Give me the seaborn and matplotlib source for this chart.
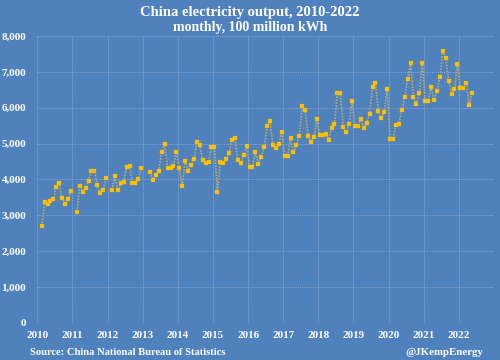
import numpy as np
import pandas as pd
import matplotlib
matplotlib.use("Agg")
import matplotlib.pyplot as plt
import seaborn as sns

nan = np.nan
years = list(range(2010, 2023))
v2010 = [nan, 2700, 3360, 3320, 3400, 3460, 3780, 3900, 3490, 3320, 3450, 3670]
v2011 = [nan, 3100, 3830, 3660, 3770, 3960, 4240, 4250, 3850, 3630, 3710, 4030]
v2012 = [nan, 3700, 4100, 3710, 3890, 3930, 4350, 4370, 3900, 3890, 4000, 4320]
v2013 = [nan, nan, 4200, 3990, 4120, 4240, 4780, 4990, 4310, 4310, 4390, 4770]
v2014 = [4320, 3830, 4510, 4240, 4410, 4570, 5050, 4950, 4530, 4450, 4490, 4900]
v2015 = [4900, 3650, 4500, 4450, 4560, 4750, 5090, 5150, 4550, 4450, 4670, 4920]
v2016 = [4350, 4350, 4770, 4440, 4630, 4900, 5500, 5620, 4950, 4870, 4980, 5330]
v2017 = [4650, 4650, 5160, 4760, 4950, 5200, 6050, 5930, 5200, 5040, 5190, 5690]
v2018 = [5230, 5230, 5270, 5100, 5440, 5540, 6400, 6400, 5470, 5320, 5540, 6190]
v2019 = [5490, 5490, 5690, 5440, 5570, 5830, 6570, 6680, 5910, 5710, 5880, 6530]
v2020 = [5130, 5130, 5520, 5540, 5930, 6300, 6800, 7240, 6300, 6100, 6410, 7260]
v2021 = [6200, 6200, 6570, 6220, 6470, 6850, 7580, 7380, 6750, 6390, 6530, 7220]
v2022 = [6560, 6560, 6700, 6080, 6420]
yearly = [v2010, v2011, v2012, v2013, v2014, v2015, v2016, v2017, v2018,
          v2019, v2020, v2021, v2022]
ytick_vals = [0, 1000, 2000, 3000, 4000, 5000, 6000, 7000, 8000]
xtick_years = years

title = "China electricity output, 2010-2022"
subtitle = "monthly, 100 million kWh"
source = "Source: China National Bureau of Statistics"
handle = "@JKempEnergy"

# build table
rows = []
for y, vals in zip(years, yearly):
    for m, v in enumerate(vals):
        rows.append((y + (m + 0.5) / 12.0, v))
df = pd.DataFrame(rows, columns=["t", "v"])
df["seg"] = df["v"].isna().cumsum()
dfv = df.dropna()

BG = "#4F81BD"
sns.set_theme(style="white")
plt.rcParams["font.family"] = ["Liberation Serif", "DejaVu Serif"]
plt.rcParams["font.weight"] = "bold"

fig = plt.figure(figsize=(5, 3.6), dpi=100, facecolor=BG)
ax = fig.add_axes([0.0746, 0.1028, 0.9134, 0.7972])
ax.set_facecolor(BG)

sns.lineplot(data=dfv, x="t", y="v", units="seg", estimator=None,
             color="#B3AA78", lw=1.2, linestyle=(0, (1, 0.8)), ax=ax)
sns.scatterplot(data=dfv, x="t", y="v", color="#FFC000", s=9,
                marker="s", edgecolor="#F0B400", linewidth=0.2, ax=ax, zorder=3)

ax.set_xlim(2010, 2023)
ax.set_ylim(0, 8000)
ax.set_xticks(list(xtick_years) + [2023])
ax.set_xticklabels([str(y) for y in xtick_years] + [""])
ax.set_yticks(ytick_vals)
ax.set_yticklabels([f"{v:,}" for v in ytick_vals])
ax.grid(True, color="#86A6D2", lw=0.7, linestyle=(0, (1, 1)))
ax.set_axisbelow(True)
for s in ax.spines.values():
    s.set_visible(False)
ax.tick_params(axis="both", colors="white", length=0, labelsize=8)
ax.tick_params(axis="x", pad=6)
ax.tick_params(axis="y", pad=8)
for lbl in ax.get_xticklabels() + ax.get_yticklabels():
    lbl.set_fontweight("bold")
ax.set_xlabel("")
ax.set_ylabel("")

fig.text(0.5, 0.966, title, ha="center", va="center", color="white",
         fontsize=10.5, fontweight="bold")
fig.text(0.5, 0.924, subtitle, ha="center", va="center", color="white",
         fontsize=10, fontweight="bold")
fig.text(0.06, 0.022, source, ha="left", va="center", color="white",
         fontsize=7.6, fontweight="bold")
fig.text(0.967, 0.022, handle, ha="right", va="center", color="white",
         fontsize=7.8, fontweight="bold")

fig.savefig("out.png", dpi=100, facecolor=BG)
